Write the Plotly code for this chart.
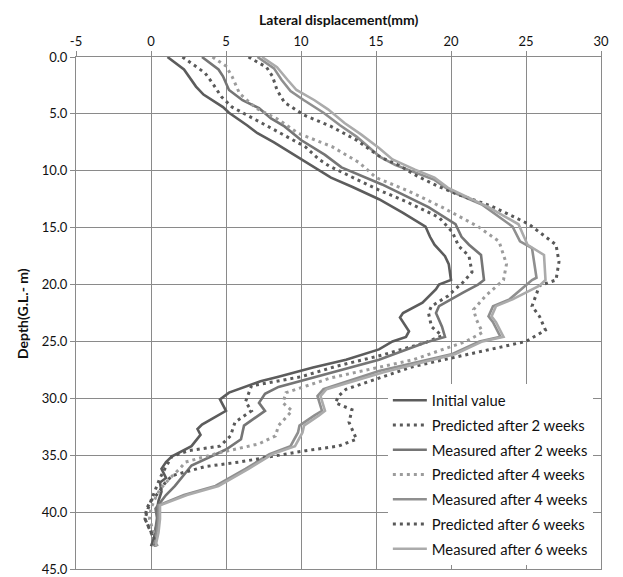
import plotly.graph_objects as go

# Lateral displacement profiles (mm) versus depth below ground level (m)

init_depth = [0, 1.1, 2.6, 3.3, 4.4, 4.9, 6.0, 6.7, 7.5, 9.0, 10.0, 10.6, 11.4, 12.5, 13.7,
              14.9, 15.8, 16.5, 17.5, 18.2, 19.6, 20.0, 20.4, 21.6, 22.5, 22.9, 24.1, 24.6,
              25.0, 25.7, 26.6, 27.3, 28.1, 28.5, 29.5, 30.1, 31.1, 32.3, 32.7, 33.2, 34.2,
              35.1, 35.6, 36.2, 37.0, 37.4, 38.2, 39.0, 39.8, 40.5, 41.5, 42.3, 43.0]
init_disp = [1.1, 2.2, 3.0, 3.5, 4.8, 5.2, 6.4, 7.1, 8.2, 10.0, 11.2, 12.0, 13.4, 15.2, 16.8,
             18.3, 18.6, 18.9, 19.6, 19.85, 20.0, 19.2, 19.0, 18.1, 16.8, 16.6, 17.2, 17.0,
             16.1, 15.2, 13.0, 10.8, 8.5, 7.3, 5.2, 4.6, 5.0, 3.4, 3.1, 3.3, 2.7,
             1.4, 1.0, 0.7, 1.0, 0.6, 0.7, 0.5, 0.4, 0.5, 0.3, 0.2, 0.0]

pred2_depth = [0, 1.4, 2.3, 3.5, 4.4, 5.5, 6.6, 7.9, 9.0, 9.6, 10.5, 11.7, 12.7, 14.1, 15.4,
               16.6, 17.5, 18.9, 19.8, 20.4, 21.0, 21.9, 22.5, 23.7, 24.5, 25.1, 26.2, 27.2,
               28.1, 28.9, 30.3, 31.1, 32.1, 33.3, 34.2, 34.6, 35.1, 36.0, 37.0, 38.0, 39.0,
               39.7, 40.6, 41.5, 42.3, 43.0]
pred2_disp = [2.1, 3.6, 4.1, 4.7, 5.4, 7.0, 8.5, 10.3, 11.2, 11.9, 13.3, 15.2, 17.0, 19.2, 20.1,
              20.5, 21.2, 21.4, 20.8, 20.3, 19.8, 18.7, 18.5, 18.7, 19.4, 18.3, 15.4, 12.3,
              10.0, 6.7, 6.3, 6.7, 5.6, 5.3, 4.6, 2.5, 1.4, 1.0, 0.6, 0.3, 0.0,
              -0.2, -0.4, -0.1, 0.2, 0.4]

meas2_depth = [0, 1.1, 1.7, 2.9, 3.8, 4.5, 5.4, 6.1, 7.3, 8.6, 9.7, 10.8, 11.2, 12.1, 13.2,
               14.7, 15.8, 16.5, 17.4, 19.6, 20.0, 20.7, 21.9, 22.5, 23.7, 24.6, 25.1, 26.6,
               28.2, 29.0, 29.6, 30.4, 31.1, 32.4, 33.6, 34.5, 35.9, 37.7, 38.5, 39.7, 40.5,
               41.5, 42.3, 43.0]
meas2_disp = [3.4, 4.5, 4.8, 5.2, 6.1, 7.2, 8.0, 8.9, 10.0, 11.6, 12.7, 14.6, 15.4, 16.8, 18.5,
              20.3, 20.7, 21.2, 22.0, 22.2, 21.8, 20.8, 19.2, 19.0, 19.4, 19.6, 18.3, 15.2,
              10.7, 8.5, 7.6, 7.2, 7.6, 6.2, 6.0, 5.0, 2.7, 1.6, 1.0, 0.3, 0.4,
              0.3, 0.3, 0.2]

pred4_depth = [0, 0.8, 1.7, 3.2, 4.5, 5.5, 6.7, 7.9, 9.3, 10.6, 11.8, 13.2, 14.9, 16.2, 18.2,
               19.6, 21.0, 22.2, 23.1, 24.2, 25.0, 26.6, 28.2, 29.5, 30.4, 31.1, 32.4, 33.3,
               34.0, 34.8, 35.6, 36.2, 37.1, 38.0, 39.0, 39.7, 40.6, 41.5, 42.3, 43.0]
pred4_disp = [4.1, 5.0, 5.4, 5.9, 7.0, 8.5, 9.8, 12.1, 13.9, 15.0, 17.2, 19.4, 21.8, 23.2, 23.7,
              23.5, 22.3, 21.5, 21.7, 22.1, 21.0, 17.5, 12.0, 9.0, 8.8, 9.4, 8.5, 8.3,
              7.2, 4.5, 2.3, 1.9, 1.2, 0.6, 0.2, 0.0, -0.1, 0.1, 0.3, 0.4]

meas4_depth = [0, 1.0, 2.0, 3.0, 3.8, 4.9, 6.0, 7.0, 8.8, 9.5, 10.8, 11.8, 13.0, 14.9, 16.2,
               16.8, 19.4, 19.6, 21.3, 21.9, 22.8, 23.3, 24.6, 25.0, 26.1, 27.6, 29.2, 29.8,
               31.1, 31.5, 32.4, 33.0, 34.2, 34.9, 36.2, 37.7, 38.5, 39.4, 40.6, 41.8, 43.0]
meas4_disp = [7.1, 8.2, 8.7, 9.3, 10.2, 11.5, 12.6, 13.7, 15.3, 16.3, 18.9, 20.0, 22.1, 24.1, 24.6,
              25.4, 25.7, 25.4, 23.9, 22.8, 22.5, 22.8, 23.3, 21.9, 20.1, 15.2, 11.5, 11.1,
              11.4, 10.9, 9.9, 9.8, 9.3, 7.9, 6.3, 4.3, 2.2, 0.5, 0.5, 0.4, 0.2]

pred6_depth = [0, 0.9, 1.7, 2.9, 4.0, 5.1, 6.1, 7.3, 8.8, 9.5, 10.5, 11.4, 12.1, 13.1, 14.7,
               16.5, 18.0, 19.6, 20.1, 21.9, 22.8, 24.0, 25.0, 25.9, 27.2, 29.2, 29.8, 30.4,
               31.0, 32.1, 33.6, 34.2, 34.6, 35.1, 35.6, 36.0, 36.5, 36.8, 37.5, 38.3, 39.0,
               39.7, 40.6, 41.5, 42.3, 43.0]
pred6_disp = [6.5, 7.7, 8.1, 8.4, 8.9, 10.2, 12.0, 13.7, 15.3, 16.5, 17.8, 19.2, 20.5, 22.7, 25.2,
              27.0, 27.2, 27.0, 25.9, 25.4, 25.9, 26.3, 25.0, 21.9, 17.5, 13.0, 12.5, 12.3,
              13.4, 13.2, 13.7, 12.5, 10.3, 8.1, 5.9, 3.6, 2.1, 1.4, 0.9, 0.5, 0.0,
              -0.3, -0.4, -0.1, 0.2, 0.3]

meas6_depth = [0, 0.9, 2.0, 2.9, 3.8, 4.6, 5.8, 6.8, 8.0, 9.0, 9.9, 10.6, 11.5, 12.4, 13.2,
               14.7, 16.5, 17.4, 19.6, 20.1, 21.3, 21.9, 22.8, 23.3, 24.6, 25.0, 26.1, 27.7,
               29.2, 29.8, 31.1, 31.5, 32.4, 33.0, 34.2, 34.9, 36.2, 37.7, 38.5, 39.4, 40.6,
               41.8, 43.0]
meas6_disp = [7.4, 8.4, 9.1, 9.7, 10.9, 11.8, 12.9, 14.0, 15.2, 16.1, 17.6, 18.9, 19.8, 21.2, 22.5,
              24.5, 25.1, 26.2, 26.3, 25.9, 24.1, 23.0, 22.7, 23.0, 23.5, 22.1, 20.3, 15.5,
              11.7, 11.3, 11.6, 11.2, 10.2, 10.1, 9.6, 8.1, 6.5, 4.5, 2.4, 0.6, 0.6,
              0.5, 0.3]

x_ticks = [-5, 0, 5, 10, 15, 20, 25, 30]
x_labels = ["-5", "0", "5", "10", "15", "20", "25", "30"]
y_ticks = [0, 5, 10, 15, 20, 25, 30, 35, 40, 45]

series = [
    ("Initial value", init_disp, init_depth, "#5c5c5c", "solid"),
    ("Predicted after 2 weeks", pred2_disp, pred2_depth, "#5a5a5a", "3px,4px"),
    ("Measured after 2 weeks", meas2_disp, meas2_depth, "#757575", "solid"),
    ("Predicted after 4 weeks", pred4_disp, pred4_depth, "#9c9c9c", "3px,4px"),
    ("Measured after 4 weeks", meas4_disp, meas4_depth, "#8f8f8f", "solid"),
    ("Predicted after 6 weeks", pred6_disp, pred6_depth, "#585858", "3px,4px"),
    ("Measured after 6 weeks", meas6_disp, meas6_depth, "#ababab", "solid"),
]

FONT = "Lato, 'Open Sans', sans-serif"
GRID = "#8a8a8a"

fig = go.Figure()
for i, (name, xs, ys, color, dash) in enumerate(series):
    fig.add_trace(go.Scatter(
        x=xs, y=ys, name=name, mode="lines",
        legendgroup=f"g{i}",
        line=dict(color=color, width=3 if dash != "solid" else 2.6, dash=dash),
    ))

axis_common = dict(
    showgrid=True, gridcolor=GRID, gridwidth=1,
    showline=True, linecolor=GRID, linewidth=1, mirror=True,
    ticks="outside", ticklen=5, tickcolor=GRID,
    zeroline=False, ticklabeloverflow="allow", automargin=False,
)

fig.update_layout(
    width=623, height=577,
    margin=dict(l=76, r=22, t=57, b=8),
    paper_bgcolor="white", plot_bgcolor="white",
    font=dict(family=FONT, size=13, color="#111"),
    legend=dict(
        x=0.594, y=0.361, xanchor="left", yanchor="top",
        bgcolor="white", borderwidth=0,
        font=dict(family=FONT, size=14.8, color="#111"),
        tracegroupgap=2.5, itemwidth=34,
    ),
    xaxis=dict(side="top", range=[-5, 30], tickvals=x_ticks, ticktext=x_labels,
               **axis_common),
    yaxis=dict(range=[45, 0], tickvals=y_ticks, tickformat=".1f", **axis_common),
    annotations=[
        dict(text="<b>Lateral displacement(mm)</b>", xref="paper", yref="paper",
             x=0.5, y=1.0742, xanchor="center", yanchor="middle", showarrow=False,
             font=dict(family=FONT, size=14, color="#111")),
        dict(text="<b>Depth(G.L.- m)</b>", xref="paper", yref="paper",
             x=-0.1029, y=0.5, xanchor="center", yanchor="middle", showarrow=False,
             textangle=-90, font=dict(family=FONT, size=14, color="#111")),
    ],
)

fig.write_html("out.html")
